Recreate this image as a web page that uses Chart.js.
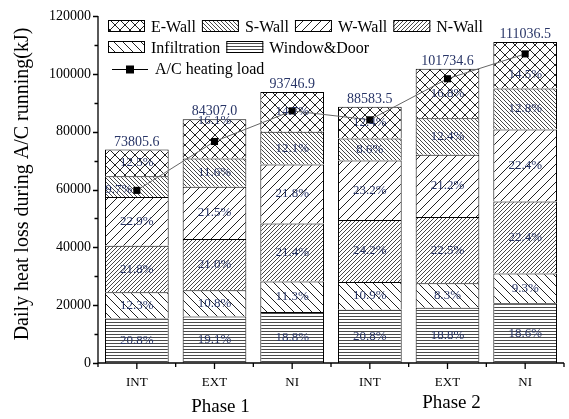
<!DOCTYPE html>
<html><head><meta charset="utf-8">
<script src="https://cdn.jsdelivr.net/npm/chart.js@4.4.1/dist/chart.umd.min.js"></script>
<style>html,body{margin:0;padding:0;background:#fff;}#wrap{width:569px;height:419px;position:relative;}</style>
</head><body><div id="wrap"><canvas id="c"></canvas></div>
<script>
// ---------------- data ----------------
const categories = ['INT', 'EXT', 'NI', 'INT', 'EXT', 'NI'];
const phaseLabels = ['Phase 1', 'Phase 2'];
const totals = [73805.6, 84307.0, 93746.9, 88583.5, 101734.6, 111036.5];
// shares (%) of the daily heat loss, bottom to top of each stack
const pctWindowDoor   = [20.8, 19.1, 18.8, 20.8, 18.8, 18.6];
const pctInfiltration = [12.3, 10.8, 11.3, 10.9, 8.3, 9.3];
const pctNWall        = [21.8, 21.0, 21.4, 24.2, 22.5, 22.4];
const pctWWall        = [22.9, 21.5, 21.8, 23.2, 21.2, 22.4];
const pctSWall        = [9.7, 11.6, 12.1, 8.6, 12.4, 12.8];
const pctEWall        = [12.5, 16.1, 14.7, 12.4, 16.8, 14.5];
const acHeatingLoad   = [59700, 76600, 87200, 84100, 98300, 106900];
const yMax = 120000, yMajorStep = 20000, yMinorStep = 10000;

// -------------- styles ---------------
const FONT = "'Liberation Serif', 'Times New Roman', serif";
const LABEL_COLOR = '#283567';
// small nudges of individual percentage labels (dx, dy in px)
const labelNudge = { 'S-Wall-0': [-18, 3], 'E-Wall-1': [0, -18], 'E-Wall-5': [0, 9] };

function makePattern(kind, p, lw, color) {
  const c = document.createElement('canvas');
  c.width = p; c.height = p;
  const g = c.getContext('2d');
  g.fillStyle = '#fff'; g.fillRect(0, 0, p, p);
  g.strokeStyle = color; g.lineWidth = lw;
  const fwd = () => { g.beginPath(); g.moveTo(-1, p + 1); g.lineTo(p + 1, -1);
    g.moveTo(-1 - p, p + 1); g.lineTo(1, -1); g.moveTo(p - 1, p + 1); g.lineTo(2 * p + 1, -1); g.stroke(); };
  const back = () => { g.beginPath(); g.moveTo(-1, -1); g.lineTo(p + 1, p + 1);
    g.moveTo(-1 - p, -1); g.lineTo(1, p + 1); g.moveTo(p - 1, -1); g.lineTo(2 * p + 1, p + 1); g.stroke(); };
  if (kind === 'h') { g.fillStyle = color; g.fillRect(0, 1, p, lw); }
  if (kind === 'fwd') fwd();
  if (kind === 'back') back();
  if (kind === 'cross') { fwd(); back(); }
  return c.getContext('2d').createPattern(c, 'repeat');
}

const series = [
  { name: 'Window&Door', pct: pctWindowDoor, fill: makePattern('h', 3, 1, '#4a4a4a') },
  { name: 'Infiltration', pct: pctInfiltration, fill: makePattern('back', 9, 1, '#222') },
  { name: 'N-Wall', pct: pctNWall, fill: makePattern('fwd', 4, 0.9, '#333') },
  { name: 'W-Wall', pct: pctWWall, fill: makePattern('fwd', 9, 1, '#222') },
  { name: 'S-Wall', pct: pctSWall, fill: makePattern('back', 4, 0.9, '#333') },
  { name: 'E-Wall', pct: pctEWall, fill: makePattern('cross', 10, 1, '#222') }
];
const sumPct = categories.map((_, i) => series.reduce((s, d) => s + d.pct[i], 0));

const barDatasets = series.map(s => ({
  type: 'bar', label: s.name,
  data: s.pct.map((v, i) => v / sumPct[i] * totals[i]),
  backgroundColor: s.fill, borderColor: '#000',
  borderWidth: { top: 1, left: 1, right: 1, bottom: 0 }, borderSkipped: false,
  stack: 'bars', order: 1, barPercentage: 0.82, categoryPercentage: 1.0
}));
const lineDataset = {
  type: 'line', label: 'A/C heating load', data: acHeatingLoad, stack: 'line', order: 0,
  borderColor: '#666', borderWidth: 1, pointStyle: 'rect', pointRadius: 5,
  pointBackgroundColor: '#000', pointBorderColor: '#000', pointBorderWidth: 0, tension: 0
};

const overlay = {
  id: 'overlay',
  afterDatasetsDraw(chart) {
    const ctx = chart.ctx;
    ctx.save();
    // percentage labels
    ctx.font = '13px ' + FONT; ctx.fillStyle = LABEL_COLOR;
    ctx.textAlign = 'center'; ctx.textBaseline = 'middle';
    series.forEach((s, di) => {
      const meta = chart.getDatasetMeta(di + 1);
      meta.data.forEach((el, i) => {
        const n = labelNudge[s.name + '-' + i] || [0, 0];
        ctx.fillText(s.pct[i].toFixed(1) + '%', el.x + n[0], (el.y + el.base) / 2 + n[1]);
      });
    });
    // totals above the stacks
    ctx.font = '14px ' + FONT; ctx.textBaseline = 'alphabetic';
    const topMeta = chart.getDatasetMeta(series.length);
    topMeta.data.forEach((el, i) => ctx.fillText(totals[i].toFixed(1), el.x, el.y - 4));
    ctx.restore();
  },
  afterDraw(chart) {
    const ctx = chart.ctx, a = chart.chartArea;
    const xs = chart.scales.x, ys = chart.scales.y;
    ctx.save();
    ctx.strokeStyle = '#000'; ctx.lineWidth = 1.3;
    const yTop = ys.getPixelForValue(yMax), yBot = ys.getPixelForValue(0);
    ctx.beginPath();
    ctx.moveTo(a.left, yTop); ctx.lineTo(a.left, yBot); ctx.lineTo(a.right, yBot);
    // y ticks
    for (let v = 0; v <= yMax; v += yMinorStep) {
      const y = Math.round(ys.getPixelForValue(v)) + 0.5;
      const len = v % yMajorStep === 0 ? 5 : 3.5;
      ctx.moveTo(a.left - len, y); ctx.lineTo(a.left, y);
    }
    // x ticks: centres and boundaries
    categories.forEach((_, i) => {
      const x = xs.getPixelForValue(i);
      ctx.moveTo(x, yBot); ctx.lineTo(x, yBot + 6);
    });
    for (let i = 0; i <= categories.length; i++) {
      const x = xs.getPixelForValue(i - 0.5);
      ctx.moveTo(x, yBot); ctx.lineTo(x, yBot + 4);
    }
    ctx.stroke();

    // y axis title
    ctx.fillStyle = '#000';
    ctx.font = '20px ' + FONT; ctx.textAlign = 'center'; ctx.textBaseline = 'middle';
    ctx.save(); ctx.translate(23, 184); ctx.rotate(-Math.PI / 2);
    ctx.fillText('Daily heat loss during A/C running(kJ)', 0, 0); ctx.restore();

    // phase labels
    ctx.font = '19px ' + FONT;
    ctx.fillText(phaseLabels[0], xs.getPixelForValue(1) + 6, 407);
    ctx.fillText(phaseLabels[1], xs.getPixelForValue(4) + 4, 403);

    // legend
    ctx.font = '16px ' + FONT; ctx.textAlign = 'left'; ctx.textBaseline = 'alphabetic';
    const rows = [['E-Wall', 'S-Wall', 'W-Wall', 'N-Wall'], ['Infiltration', 'Window&Door']];
    const rowBottom = [32, 53];
    rows.forEach((row, r) => {
      let x = a.left + 10;
      row.forEach(name => {
        const s = series.find(d => d.name === name);
        ctx.fillStyle = s.fill; ctx.fillRect(x, rowBottom[r] - 12, 37, 12);
        ctx.lineWidth = 1; ctx.strokeStyle = '#000';
        ctx.strokeRect(x + 0.5, rowBottom[r] - 11.5, 36, 11);
        ctx.fillStyle = '#000';
        ctx.fillText(name, x + 43, rowBottom[r]);
        x += 43 + ctx.measureText(name).width + 6;
      });
    });
    ctx.strokeStyle = '#000'; ctx.lineWidth = 1;
    ctx.beginPath(); ctx.moveTo(a.left + 14, 69.5); ctx.lineTo(a.left + 50, 69.5); ctx.stroke();
    ctx.fillStyle = '#000'; ctx.fillRect(a.left + 28, 65.5, 8, 8);
    ctx.fillText(lineDataset.label, a.left + 57, 74);
    ctx.restore();
  }
};

new Chart(document.getElementById('c'), {
  data: { labels: categories, datasets: [lineDataset, ...barDatasets] },
  options: {
    responsive: true, maintainAspectRatio: false, animation: false, events: [],
    layout: { padding: { top: 16, right: 2, left: 0, bottom: 0 } },
    plugins: { legend: { display: false }, tooltip: { enabled: false } },
    scales: {
      x: {
        type: 'category', stacked: true, offset: true,
        grid: { display: false, drawTicks: false }, border: { display: false },
        ticks: { color: '#000', font: { family: FONT, size: 13 }, padding: 12, maxRotation: 0 },
        afterFit: s => { s.height = 56; }
      },
      y: {
        stacked: true, min: 0, max: yMax,
        grid: { display: false, drawTicks: false }, border: { display: false },
        ticks: { stepSize: yMajorStep, color: '#000', font: { family: FONT, size: 14 }, padding: 7,
                 callback: v => String(v) },
        afterFit: s => { s.width = 98; }
      }
    }
  },
  plugins: [overlay]
});
</script></body></html>
